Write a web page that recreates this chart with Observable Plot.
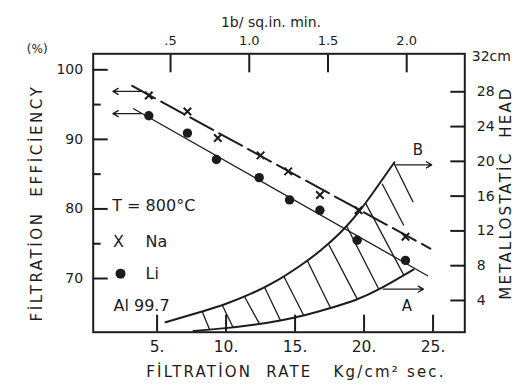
<!DOCTYPE html>
<html><head><meta charset="utf-8">
<script src="https://cdn.jsdelivr.net/npm/d3@7"></script>
<script src="https://cdn.jsdelivr.net/npm/@observablehq/plot@0.6"></script>
<style>
html,body{margin:0;padding:0;background:#fff;}
#chart svg{display:block;}
</style></head><body><div id="chart"></div>
<script>
// ---- Axis ticks ----
const rateTicks = [5, 10, 15, 20, 25];
const rateTickLabels = ["5.", "10.", "15.", "20.", "25."];
const lbTicks = [0.5, 1.0, 1.5, 2.0];
const lbTickLabels = [".5", "1.0", "1.5", "2.0"];
const effMajorTicks = [70, 80, 90, 100];
const effMinorTicks = [75, 85, 95];
const headTicks = [4, 8, 12, 16, 20, 24, 28];

// ---- Series: Na (x markers) ----
const naRate = [4.4, 7.2, 9.4, 12.5, 14.5, 16.8, 19.6, 23.0];
const naEff  = [96.3, 94.0, 90.2, 87.7, 85.4, 82.0, 79.8, 76.0];
// ---- Series: Li (dots) ----
const liRate = [4.4, 7.2, 9.3, 12.4, 14.6, 16.8, 19.5, 23.0];
const liEff  = [93.4, 90.9, 87.1, 84.5, 81.3, 79.8, 75.5, 72.6];

// ---- Fitted lines (end points) ----
const naFitRate = [3.2, 24.8];
const naFitEff  = [97.7, 74.3];
const liFitRate = [3.3, 24.6];
const liFitEff  = [94.4, 70.4];

// ---- Extrapolation arrows at left (rate from -> to, efficiency) ----
const leftArrowFrom = [3.8, 3.8];
const leftArrowTo   = [1.8, 1.8];
const leftArrowEff  = [96.9, 93.7];

// ---- Metallostatic head band (cm) vs rate ----
const upperRate = [5.61, 8.14, 9.96, 11.77, 13.58, 15.39, 16.84, 18.29, 19.59, 20.89, 22.2];
const upperHead = [1.5, 2.68, 3.6, 4.75, 6.19, 8.02, 9.75, 11.82, 14.12, 16.93, 19.9];
const lowerRate = [7.64, 9.96, 12.13, 13.94, 15.75, 17.57, 19.46, 21.19, 23.58];
const lowerHead = [0.49, 0.82, 1.24, 1.7, 2.33, 3.13, 4.11, 5.38, 7.56];
// hatch strokes: (rate, head) top -> bottom
const hatchRate1 = [8.27, 9.72, 11.33, 12.78, 14.18, 15.88, 17.44, 18.72, 20.10, 21.31, 22.15];
const hatchHead1 = [2.73, 3.47, 4.46, 5.55, 6.79, 8.60, 10.44, 12.59, 15.23, 17.42, 19.81];
const hatchRate2 = [8.80, 10.50, 12.42, 13.94, 15.63, 17.57, 19.50, 21.07, 22.88, 22.88, 23.56];
const hatchHead2 = [0.66, 0.93, 1.31, 1.70, 2.28, 3.14, 4.19, 5.30, 6.91, 12.62, 15.30];

// ---- Limit arrows A and B (rate from -> to, head) ----
const limitNames = ["A", "B"];
const limitFrom  = [21.4, 22.3];
const limitTo    = [24.3, 24.9];
const limitHead  = [5.3, 19.6];
const limitLabelRate = [23.1, 23.9];
const limitLabelHead = [3.4, 21.3];

// ---- In-plot legend / notes ----
const noteTexts = ["T = 800°C", "Na", "Li", "Al 99.7"];
const noteRate  = [1.75, 4.16, 4.16, 1.84];
const noteEff   = [80.5, 75.2, 70.7, 66.1];
const legendSymbolRate = [2.2, 2.35];
const legendSymbolEff  = [75.2, 70.7];

// ---- Scale relations ----
const lbToRate = t => 0.27 + 11.41 * t;     // top axis (lb/sq.in.min) -> bottom axis
const headToEff = h => 61.84 + 1.25 * h;    // right axis (cm) -> left axis (%)

const na = naRate.map((x, i) => ({x, y: naEff[i]}));
const li = liRate.map((x, i) => ({x, y: liEff[i]}));
const naFit = naFitRate.map((x, i) => ({x, y: naFitEff[i]}));
const liFit = liFitRate.map((x, i) => ({x, y: liFitEff[i]}));
const leftArrows = leftArrowEff.map((y, i) => ({x1: leftArrowFrom[i], x2: leftArrowTo[i], y}));
const upper = upperRate.map((x, i) => ({x, y: headToEff(upperHead[i])}));
const lower = lowerRate.map((x, i) => ({x, y: headToEff(lowerHead[i])}));
const hatch = hatchRate1.map((x1, i) => ({x1, y1: headToEff(hatchHead1[i]), x2: hatchRate2[i], y2: headToEff(hatchHead2[i])}));
const limits = limitNames.map((n, i) => ({n, x1: limitFrom[i], x2: limitTo[i], y: headToEff(limitHead[i]), lx: limitLabelRate[i], ly: headToEff(limitLabelHead[i])}));
const notes = noteTexts.map((t, i) => ({t, x: noteRate[i], y: noteEff[i]}));

const rateLabel = new Map(rateTicks.map((d, i) => [d, rateTickLabels[i]]));
const lbTickPos = lbTicks.map(lbToRate);
const lbLabel = new Map(lbTickPos.map((d, i) => [d, lbTickLabels[i]]));
const headTickPos = headTicks.map(headToEff);
const headLabel = new Map(headTickPos.map((d, i) => [d, String(headTicks[i])]));

const ink = "#1c1c1c";
const font = "DejaVu Sans";

const plot = Plot.plot({
  width: 527, height: 390,
  marginTop: 53.3, marginBottom: 58.3, marginLeft: 92.7, marginRight: 62.7,
  x: {domain: [0.37, 27.3]},
  y: {domain: [62.28, 102.3]},
  style: {fontFamily: font, color: ink, background: "#fff"},
  marks: [
    Plot.link(hatch, {x1: "x1", y1: "y1", x2: "x2", y2: "y2", stroke: ink, strokeWidth: 1.3}),
    Plot.line(upper, {x: "x", y: "y", curve: "natural", stroke: ink, strokeWidth: 2}),
    Plot.line(lower, {x: "x", y: "y", curve: "natural", stroke: ink, strokeWidth: 2}),
    Plot.line(naFit, {x: "x", y: "y", stroke: ink, strokeWidth: 2, strokeDasharray: "26,7"}),
    Plot.line(liFit, {x: "x", y: "y", stroke: ink, strokeWidth: 1.3}),
    Plot.arrow(leftArrows, {x1: "x1", x2: "x2", y1: "y", y2: "y", stroke: ink, strokeWidth: 1.3, headLength: 7}),
    Plot.arrow(limits, {x1: "x1", x2: "x2", y1: "y", y2: "y", stroke: ink, strokeWidth: 1.3, headLength: 7}),
    Plot.text(limits, {x: "lx", y: "ly", text: "n", fontSize: 15, fill: ink}),
    Plot.dot(na, {x: "x", y: "y", symbol: "times", r: 3.5, stroke: ink, strokeWidth: 2}),
    Plot.dot(li, {x: "x", y: "y", r: 4.7, fill: ink}),
    Plot.text(notes, {x: "x", y: "y", text: "t", textAnchor: "start", fontSize: 16, fill: ink}),
    Plot.text([legendSymbolRate[0]], {x: d => d, y: () => legendSymbolEff[0], text: () => "X", fontSize: 16, fill: ink}),
    Plot.dot([legendSymbolRate[1]], {x: d => d, y: () => legendSymbolEff[1], r: 5, fill: ink}),
    Plot.frame({stroke: ink, strokeWidth: 2}),
    Plot.axisX({anchor: "bottom", ticks: rateTicks, tickFormat: d => rateLabel.get(d), tickSize: -17, tickPadding: 26, fontSize: 15.5, strokeWidth: 2, label: null}),
    Plot.axisX({anchor: "top", ticks: lbTickPos, tickFormat: d => lbLabel.get(d), tickSize: -18, tickPadding: 27, fontSize: 13, strokeWidth: 2, label: null}),
    Plot.axisY({anchor: "left", ticks: effMajorTicks, tickSize: -15, tickPadding: 25, fontSize: 14, strokeWidth: 2, label: null}),
    Plot.axisY({anchor: "left", ticks: effMinorTicks, tickSize: -8, tickFormat: () => "", strokeWidth: 2, label: null}),
    Plot.axisY({anchor: "right", ticks: headTickPos, tickFormat: d => headLabel.get(d), tickSize: -15, tickPadding: 27, fontSize: 14, strokeWidth: 2, label: null}),
    Plot.text(["FİLTRATİON  EFFİCİENCY"], {frameAnchor: "left", textAnchor: "middle", rotate: -90, dx: -56, dy: 10, fontSize: 15, fill: ink}),
    Plot.text(["METALLOSTATİC  HEAD"], {frameAnchor: "right", textAnchor: "middle", rotate: -90, dx: 41, dy: 0, fontSize: 15, fill: ink}),
    Plot.text(["FİLTRATİON  RATE   Kg/cm² sec."], {frameAnchor: "bottom", dx: 17, dy: 45, fontSize: 15, fill: ink}),
    Plot.text(["1b/ sq.in. min."], {frameAnchor: "top", dx: -8, dy: -37, fontSize: 14, fill: ink}),
    Plot.text(["(%)"], {frameAnchor: "top-left", textAnchor: "middle", dx: -56, dy: -9, fontSize: 12, fill: ink}),
    Plot.text(["32cm"], {frameAnchor: "top-right", textAnchor: "start", dx: 7, dy: -3, fontSize: 14, fill: ink})
  ]
});

const spacing = new Map([["FİLTRATİON  EFFİCİENCY", 2.6], ["METALLOSTATİC  HEAD", 2.2], ["FİLTRATİON  RATE   Kg/cm² sec.", 2.2]]);
d3.select(plot).selectAll("text").each(function () {
  const s = spacing.get(this.textContent);
  if (s != null) this.setAttribute("letter-spacing", s);
});
document.getElementById("chart").appendChild(plot);
</script>
</body></html>
